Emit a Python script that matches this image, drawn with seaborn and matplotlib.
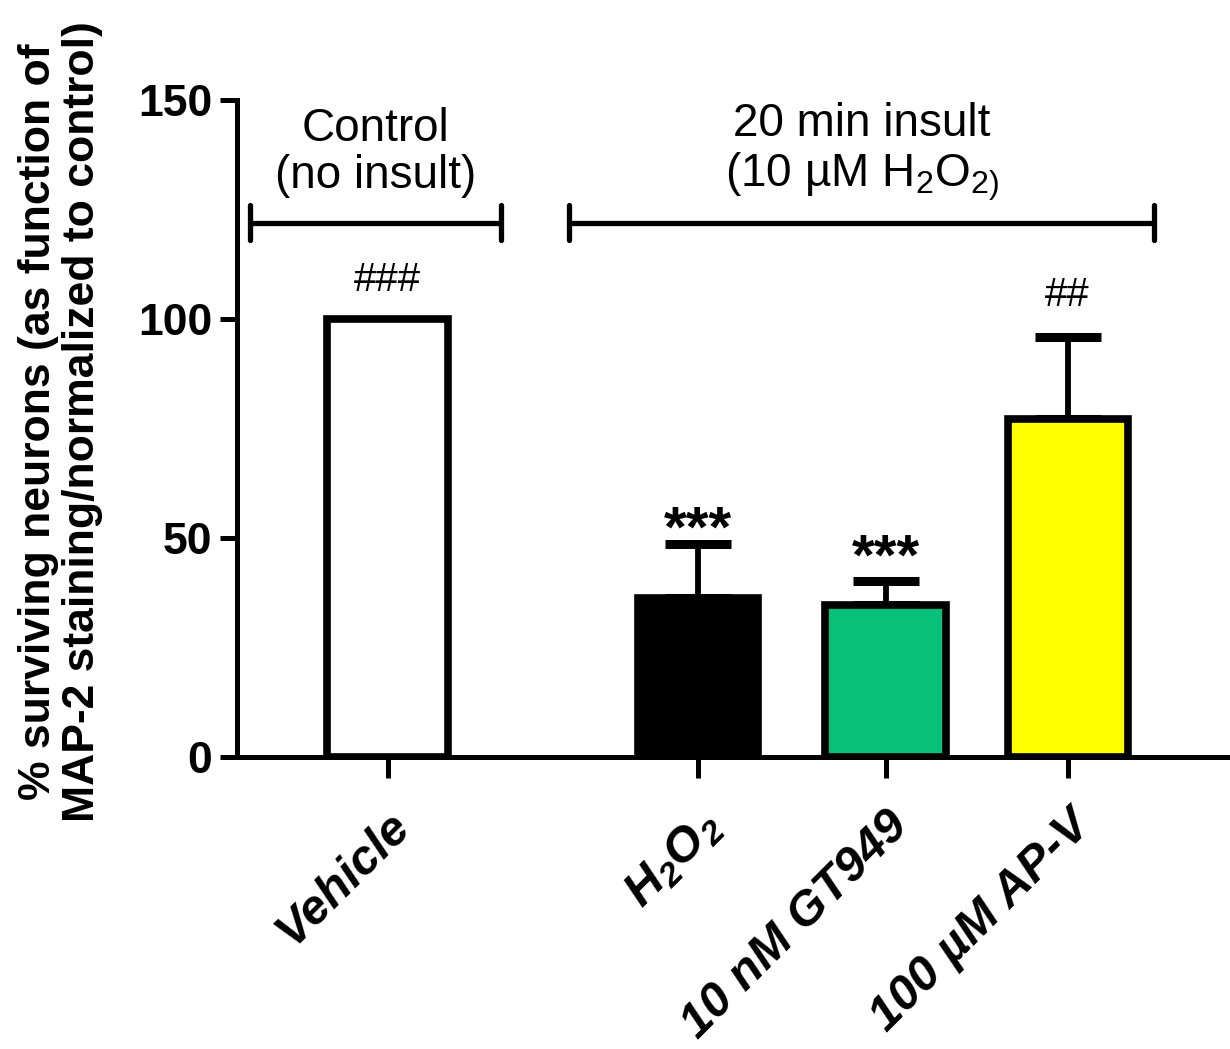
import matplotlib
matplotlib.use("Agg")
import matplotlib.pyplot as plt
import seaborn as sns
import pandas as pd
import numpy as np

# ---- data ----
groups = ["Vehicle", "H2O2", "10 nM GT949", "100 µM AP-V"]
tick_labels = ["Vehicle", r"$\mathbfit{H_2O_2}$", "10 nM GT949", "100 µM AP-V"]
means = [100.0, 36.2, 34.7, 77.2]
sem_upper = [0.0, 12.4, 5.5, 18.7]
sig_marks = ["###", "***", "***", "##"]
bar_colors = ["#FFFFFF", "#000000", "#08C078", "#FFFF00"]
yticks = [0, 50, 100, 150]
ylabel = "% surviving neurons (as function of\nMAP-2 staining/normalized to control)"
bracket_texts = ["Control\n(no insult)", "20 min insult\n(10 µM H$_2$O$_{2)}$"]

# ---- layout (positions, not data) ----
xpos = [0.0, 1.67, 2.68, 3.66]

sns.set_theme(style="white")
plt.rcParams["font.family"] = ["Liberation Sans", "DejaVu Sans"]
plt.rcParams["mathtext.fontset"] = "custom"
plt.rcParams["mathtext.rm"] = "Liberation Sans"
plt.rcParams["mathtext.it"] = "Liberation Sans:italic"
plt.rcParams["mathtext.bf"] = "Liberation Sans:bold"
plt.rcParams["mathtext.bfit"] = "Liberation Sans:bold:italic"
for k in ["text.color", "axes.labelcolor", "xtick.color", "ytick.color", "axes.edgecolor"]:
    plt.rcParams[k] = "black"

df = pd.DataFrame({"x": xpos, "value": means, "group": groups})

fig = plt.figure(figsize=(12.3, 10.49), dpi=100)
ax = fig.add_axes([0.1927, 0.2784, 0.8053, 0.6263])

sns.barplot(data=df, x="x", y="value", hue="group", palette=bar_colors,
            native_scale=True, width=0.66, errorbar=None, legend=False,
            saturation=1, edgecolor="black", linewidth=5.5, ax=ax, dodge=False)

ax.errorbar(xpos[1:], means[1:], yerr=[np.zeros(3), sem_upper[1:]],
            fmt="none", ecolor="black", elinewidth=4.2, capsize=24,
            capthick=6.5, zorder=1)
for p in ax.patches:
    p.set_zorder(2)

ax.set_xlim(-0.81, 4.52)
ax.set_ylim(0, 150)
ax.set_yticks(yticks)
ax.set_yticklabels([str(t) for t in yticks], fontsize=32, fontweight="bold")
ax.set_xticks(xpos)
ax.set_xticklabels(tick_labels, rotation=45, ha="right", rotation_mode="anchor",
                   fontsize=35, fontweight="bold", fontstyle="italic")
ax.set_xlabel("")
ax.set_ylabel(ylabel, fontsize=32, fontweight="bold", linespacing=1.1)
ax.yaxis.set_label_coords(-0.135, 0.51)

for s in ["top", "right"]:
    ax.spines[s].set_visible(False)
for s in ["left", "bottom"]:
    ax.spines[s].set_linewidth(3.6)
    ax.spines[s].set_color("black")
ax.tick_params(axis="y", direction="out", length=12, width=3.6, pad=6, left=True)
ax.tick_params(axis="x", direction="out", length=15, width=3.6, pad=18, bottom=True)

# significance marks
sig_y = [109.0, 51.5, 45.0, 105.5]
for x, t, y in zip(xpos, sig_marks, sig_y):
    star = "*" in t
    ax.text(x, y, t, ha="center", va="center",
            fontsize=42 if star else 29,
            fontweight="bold" if star else "normal")

# group brackets
br = [(-0.742, 0.613), (0.978, 4.124)]
by = 122.0
for (x0, x1), txt in zip(br, bracket_texts):
    ax.plot([x0, x1], [by, by], color="black", lw=3.8, solid_capstyle="butt", clip_on=False)
    for xe in (x0, x1):
        ax.plot([xe, xe], [by - 4, by + 4], color="black", lw=3.8, clip_on=False)
    ax.text((x0 + x1) / 2, 138.0, txt, ha="center", va="center", fontsize=33,
            linespacing=1.1)

fig.savefig("out.png", dpi=100)
